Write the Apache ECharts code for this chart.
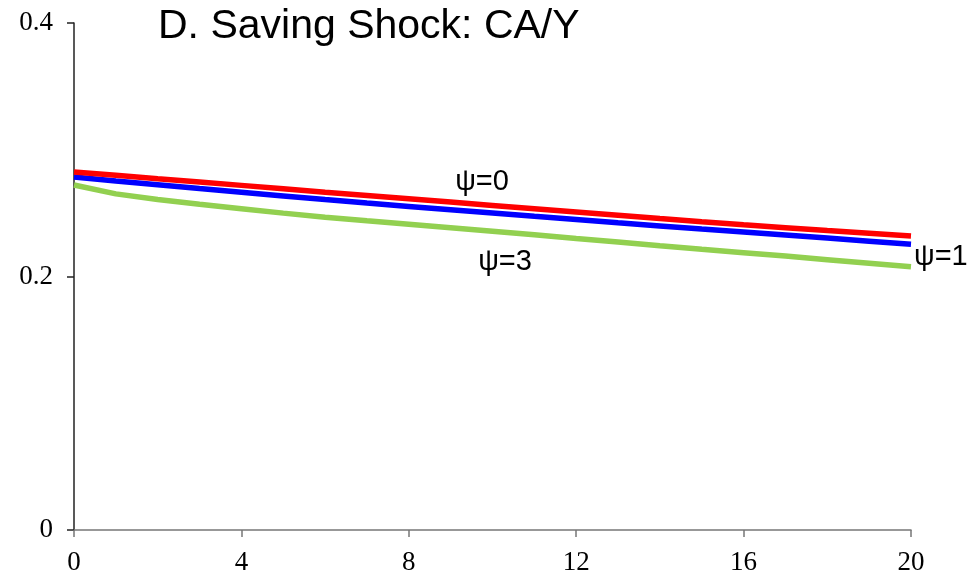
<!DOCTYPE html>
<html>
<head>
<meta charset="utf-8">
<script src="https://cdn.jsdelivr.net/npm/echarts@6/dist/echarts.min.js"></script>
<style>
  html, body { margin: 0; padding: 0; background: #fff; }
  #chart { width: 973px; height: 577px; }
</style>
</head>
<body>
<div id="chart"></div>
<script>
// periods after the shock
var periods = [0, 1, 2, 3, 4, 5, 6, 7, 8, 9, 10, 11, 12, 13, 14, 15, 16, 17, 18, 19, 20];
// CA/Y for psi = 0, 1, 3
var psi0 = [0.2825, 0.2798, 0.2771, 0.2745, 0.2719, 0.2692, 0.2665, 0.2639, 0.2613, 0.2587, 0.2561,
            0.2535, 0.2509, 0.2483, 0.2457, 0.2432, 0.2408, 0.2385, 0.2362, 0.2341, 0.2320];
var psi1 = [0.2785, 0.2754, 0.2724, 0.2694, 0.2665, 0.2636, 0.2607, 0.2579, 0.2553, 0.2527, 0.2501,
            0.2475, 0.2450, 0.2424, 0.2399, 0.2374, 0.2351, 0.2327, 0.2303, 0.2279, 0.2255];
var psi3 = [0.2722, 0.2652, 0.2608, 0.2570, 0.2535, 0.2500, 0.2468, 0.2440, 0.2413, 0.2385, 0.2357,
            0.2329, 0.2300, 0.2272, 0.2243, 0.2215, 0.2188, 0.2161, 0.2133, 0.2105, 0.2077];
var xTicks = [0, 4, 8, 12, 16, 20];
var yTicks = [0, 0.2, 0.4];

function pairs(ys) {
    return periods.map(function (p, i) { return [p, ys[i]]; });
}

var labelFont = { fontFamily: 'Liberation Sans, Arial, sans-serif', fontSize: 29, color: '#000' };

var myChart = echarts.init(document.getElementById('chart'));
var options = {
    animation: false,
    title: {
        text: 'D. Saving Shock: CA/Y',
        left: 153,
        top: 1,
        textStyle: { fontFamily: 'Liberation Sans, Arial, sans-serif', fontSize: 41, fontWeight: 'normal', color: '#000' }
    },
    grid: { left: 74, right: 62, top: 23, bottom: 47 },
    xAxis: {
        type: 'value',
        min: xTicks[0],
        max: xTicks[xTicks.length - 1],
        interval: 4,
        splitLine: { show: false },
        axisLine: { lineStyle: { color: '#777', width: 1.5 } },
        axisTick: { length: 7, lineStyle: { color: '#777', width: 1.5 } },
        axisLabel: { margin: 19, fontFamily: 'Liberation Serif, Times New Roman, serif', fontSize: 27, color: '#000' }
    },
    yAxis: {
        type: 'value',
        min: yTicks[0],
        max: yTicks[yTicks.length - 1],
        interval: 0.2,
        splitLine: { show: false },
        axisLine: { show: true, lineStyle: { color: '#222', width: 1.5 } },
        axisTick: { show: true, length: 7, lineStyle: { color: '#222', width: 1.5 } },
        axisLabel: { margin: 21, fontFamily: 'Liberation Serif, Times New Roman, serif', fontSize: 27, color: '#000' }
    },
    series: [
        {
            name: 'ψ=0', type: 'line', data: pairs(psi0), showSymbol: false, symbol: 'none',
            lineStyle: { color: '#ff0000', width: 5.5 }, z: 4,
            markPoint: {
                symbol: 'circle', symbolSize: 0,
                data: [{ coord: [9.75, 0.2746], value: 'ψ=0' }],
                label: Object.assign({ show: true, formatter: 'ψ=0', position: 'inside' }, labelFont)
            }
        },
        {
            name: 'ψ=1', type: 'line', data: pairs(psi1), showSymbol: false, symbol: 'none',
            lineStyle: { color: '#0000ff', width: 5.5 }, z: 3,
            endLabel: Object.assign({ show: true, formatter: 'ψ=1', distance: 3, offset: [0, 13] }, labelFont)
        },
        {
            name: 'ψ=3', type: 'line', data: pairs(psi3), showSymbol: false, symbol: 'none',
            lineStyle: { color: '#92d050', width: 5.5 }, z: 2,
            markPoint: {
                symbol: 'circle', symbolSize: 0,
                data: [{ coord: [10.3, 0.2114], value: 'ψ=3' }],
                label: Object.assign({ show: true, formatter: 'ψ=3', position: 'inside' }, labelFont)
            }
        }
    ]
};
myChart.setOption(options);
</script>
</body>
</html>
